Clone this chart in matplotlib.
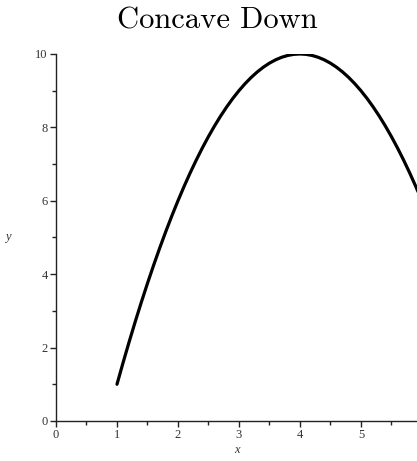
import matplotlib
matplotlib.use("Agg")
import matplotlib.pyplot as plt
from matplotlib.ticker import MultipleLocator

# Curve samples (x, y)
x_vals = [1.0, 1.1, 1.2, 1.3, 1.4, 1.5, 1.6, 1.7, 1.8, 1.9,
          2.0, 2.1, 2.2, 2.3, 2.4, 2.5, 2.6, 2.7, 2.8, 2.9,
          3.0, 3.1, 3.2, 3.3, 3.4, 3.5, 3.6, 3.7, 3.8, 3.9,
          4.0, 4.1, 4.2, 4.3, 4.4, 4.5, 4.6, 4.7, 4.8, 4.9,
          5.0, 5.1, 5.2, 5.3, 5.4, 5.5, 5.6, 5.7, 5.8, 5.9, 6.0]
y_vals = [1.00, 1.59, 2.16, 2.71, 3.24, 3.75, 4.24, 4.71, 5.16, 5.59,
          6.00, 6.39, 6.76, 7.11, 7.44, 7.75, 8.04, 8.31, 8.56, 8.79,
          9.00, 9.19, 9.36, 9.51, 9.64, 9.75, 9.84, 9.91, 9.96, 9.99,
          10.00, 9.99, 9.96, 9.91, 9.84, 9.75, 9.64, 9.51, 9.36, 9.19,
          9.00, 8.79, 8.56, 8.31, 8.04, 7.75, 7.44, 7.11, 6.76, 6.39, 6.00]

title_text = "Concave Down"
x_label = "x"
y_label = "y"

fig = plt.figure(figsize=(4.17, 4.61), dpi=100)
ax = fig.add_axes([0.1343, 0.0868, 0.8657, 0.7961])

ax.plot(x_vals, y_vals, color="black", lw=2.3, solid_capstyle="round",
        solid_joinstyle="round", clip_on=True)

ax.set_xlim(0, 5.92)
ax.set_ylim(0, 10)

for s in ("top", "right"):
    ax.spines[s].set_visible(False)
for s in ("left", "bottom"):
    ax.spines[s].set_linewidth(1.0)
    ax.spines[s].set_color("#222222")

ax.xaxis.set_major_locator(MultipleLocator(1))
ax.xaxis.set_minor_locator(MultipleLocator(0.5))
ax.yaxis.set_major_locator(MultipleLocator(2))
ax.yaxis.set_minor_locator(MultipleLocator(1))
ax.tick_params(which="major", length=4, width=1, color="#222222", pad=2,
               labelsize=9, labelcolor="#333333")
ax.tick_params(which="minor", length=3, width=1, color="#222222")
for lab in ax.get_xticklabels() + ax.get_yticklabels():
    lab.set_family("Liberation Serif")

ax.set_xlabel(x_label, family="Liberation Serif", style="italic", fontsize=9,
              color="#333333", labelpad=2)
ax.set_ylabel(y_label, family="Liberation Serif", style="italic", fontsize=9,
              color="#333333", rotation=0, labelpad=20, va="center")

fig.suptitle(title_text, family="cmr10", fontsize=22, x=0.521, y=0.984,
             va="top")

fig.savefig("out.png", dpi=100)
